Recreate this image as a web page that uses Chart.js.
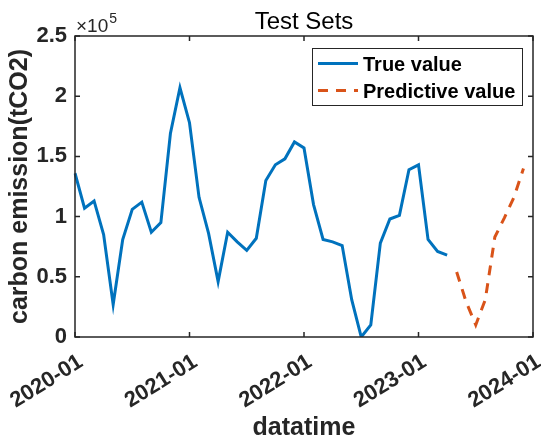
<!DOCTYPE html>
<html>
<head>
<meta charset="utf-8">
<script src="https://cdn.jsdelivr.net/npm/chart.js@4.4.1/dist/chart.umd.min.js"></script>
<style>
  body { margin: 0; background: #fff; }
  #wrap { width: 541px; height: 445px; }
</style>
</head>
<body>
<div id="wrap"><canvas id="myChart" width="541" height="445"></canvas></div>
<script>
// monthly values, tCO2 (x10^5 scale)
var trueValue = [
  136000, 107000, 113000, 85000, 27000, 81000, 106000, 112000, 87000, 95000, 169000, 207000,
  178000, 116000, 86000, 46000, 87000, 79000, 72000, 82000, 130000, 143000, 148000, 162000,
  157000, 110000, 81000, 79000, 76000, 31000, 0, 10000, 78000, 98000, 101000, 139000,
  143000, 81000, 71000, 68000
];
var predValue = [54000, 29000, 10000, 31000, 83000, 99000, 116000, 140000];
var startYear = 2020;
var nMonths = 49;          // 2020-01 .. 2024-01
var yTicks = [0, 50000, 100000, 150000, 200000, 250000];

var labels = [];
for (var i = 0; i < nMonths; i++) {
  var yy = startYear + Math.floor(i / 12);
  var mm = (i % 12) + 1;
  labels.push(yy + '-' + (mm < 10 ? '0' + mm : mm));
}

var trueData = [];
var predData = [];
for (var i = 0; i < nMonths; i++) {
  trueData.push(i < trueValue.length ? trueValue[i] : null);
  var k = i - trueValue.length;
  predData.push(k >= 0 && k < predValue.length ? predValue[k] : null);
}

var blue = '#0072BD';
var orange = '#D95319';
var axisColor = '#262626';
var fam = '"Liberation Sans", Arial, sans-serif';

// box, inward ticks, legend, exponent and title
var frame = {
  id: 'frame',
  afterDatasetsDraw: function(chart) {
    var ctx = chart.ctx, a = chart.chartArea;
    var x = chart.scales.x, y = chart.scales.y;
    ctx.save();
    ctx.strokeStyle = axisColor;
    ctx.lineWidth = 1.5;
    ctx.beginPath();
    for (var i = 0; i < labels.length; i += 12) {
      var px = x.getPixelForValue(i);
      ctx.moveTo(px, a.bottom); ctx.lineTo(px, a.bottom - 5);
      ctx.moveTo(px, a.top); ctx.lineTo(px, a.top + 5);
    }
    yTicks.forEach(function(v) {
      var py = y.getPixelForValue(v);
      ctx.moveTo(a.left, py); ctx.lineTo(a.left + 5, py);
      ctx.moveTo(a.right, py); ctx.lineTo(a.right - 5, py);
    });
    ctx.stroke();
    ctx.strokeRect(a.left, a.top, a.right - a.left, a.bottom - a.top);

    // legend
    var lx = 312, ly = 48, lw = 210, lh = 57;
    ctx.fillStyle = '#fff';
    ctx.fillRect(lx, ly, lw, lh);
    ctx.lineWidth = 1;
    ctx.strokeStyle = axisColor;
    ctx.strokeRect(lx + 0.5, ly + 0.5, lw, lh);
    ctx.lineWidth = 3;
    ctx.strokeStyle = blue;
    ctx.beginPath(); ctx.moveTo(318, 63.5); ctx.lineTo(358, 63.5); ctx.stroke();
    ctx.strokeStyle = orange;
    ctx.setLineDash([10, 8]);
    ctx.beginPath(); ctx.moveTo(318, 90.5); ctx.lineTo(358, 90.5); ctx.stroke();
    ctx.setLineDash([]);
    ctx.fillStyle = '#000';
    ctx.font = 'bold 20px ' + fam;
    ctx.textBaseline = 'alphabetic';
    ctx.textAlign = 'left';
    ctx.fillText('True value', 363, 71);
    ctx.fillText('Predictive value', 363, 98);

    // exponent
    ctx.fillStyle = axisColor;
    ctx.font = '19px ' + fam;
    ctx.fillText('\u00d710', 76, 32);
    var w = ctx.measureText('\u00d710').width;
    ctx.font = '14px ' + fam;
    ctx.fillText('5', 76 + w + 1, 23);

    // title
    ctx.fillStyle = '#000';
    ctx.font = '24px ' + fam;
    ctx.textAlign = 'center';
    ctx.fillText('Test Sets', (a.left + a.right) / 2, 29);
    ctx.restore();
  }
};

var ctx = document.getElementById('myChart').getContext('2d');
var myChart = new Chart(ctx, {
  type: 'line',
  data: {
    labels: labels,
    datasets: [{
      label: 'True value',
      data: trueData,
      borderColor: blue,
      borderWidth: 3,
      pointRadius: 0,
      tension: 0,
      fill: false
    }, {
      label: 'Predictive value',
      data: predData,
      borderColor: orange,
      borderWidth: 3,
      borderDash: [10, 8],
      pointRadius: 0,
      tension: 0,
      fill: false
    }]
  },
  options: {
    responsive: false,
    animation: false,
    devicePixelRatio: 1,
    layout: { padding: { left: 0, right: 8, top: 36, bottom: 0 } },
    plugins: {
      legend: { display: false },
      tooltip: { enabled: false }
    },
    scales: {
      x: {
        type: 'category',
        offset: false,
        grid: { display: false, drawTicks: false },
        border: { display: false },
        ticks: {
          autoSkip: false,
          maxRotation: 32,
          minRotation: 32,
          padding: 12,
          labelOffset: 6,
          color: axisColor,
          font: { family: fam, size: 22, weight: 'bold' },
          callback: function(v, i) { return i % 12 === 0 ? labels[i] : ''; }
        },
        title: {
          display: true,
          text: 'datatime',
          color: axisColor,
          padding: { top: 0, bottom: 2 },
          font: { family: fam, size: 25, weight: 'bold' }
        },
        afterFit: function(s) { s.height = 108; s.paddingLeft = 0; s.paddingRight = 0; }
      },
      y: {
        min: 0,
        max: 250000,
        grid: { display: false, drawTicks: false },
        border: { display: false },
        afterBuildTicks: function(s) { s.ticks = yTicks.map(function(v) { return { value: v }; }); },
        ticks: {
          padding: 8,
          color: axisColor,
          font: { family: fam, size: 22, weight: 'bold' },
          callback: function(v) { return String(v / 100000); }
        },
        title: {
          display: true,
          text: 'carbon emission(tCO2)',
          color: axisColor,
          padding: { top: 5, bottom: 0 },
          font: { family: fam, size: 25, weight: 'bold' }
        },
        afterFit: function(s) { s.width = 75; s.paddingTop = 0; s.paddingBottom = 0; }
      }
    }
  },
  plugins: [frame]
});
</script>
</body>
</html>
